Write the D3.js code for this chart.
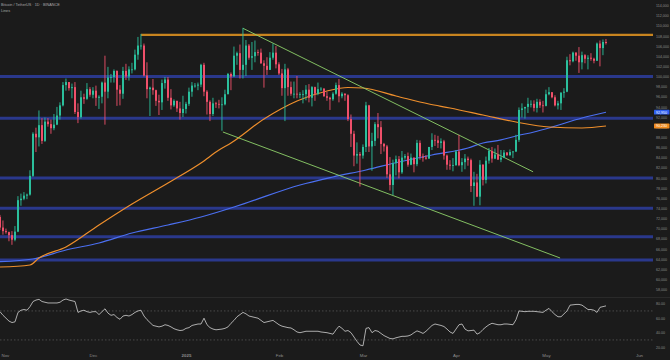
<!DOCTYPE html>
<html><head><meta charset="utf-8">
<script src="https://cdn.jsdelivr.net/npm/d3@7/dist/d3.min.js"></script>
<style>
html,body{margin:0;padding:0;background:#1b1b1b;overflow:hidden}
svg{display:block}
text{font-family:"Liberation Sans",Arial,sans-serif}
</style></head><body>
<svg id="c" width="670" height="360"></svg>
<script>
// ---- data (prices in thousands of USDT), daily candles starting 2024-10-31 ----
const startDate = Date.UTC(2024, 9, 31);
const opens = [
72.3,70.2,69.5,69.3,68.7,67.8,69.4,75.6,75.9,76.5,
76.7,80.4,88.7,88.0,90.4,87.3,91.1,90.6,89.8,90.5,
92.3,94.3,98.3,98.9,97.7,97.9,93.0,92.0,95.9,95.6,
97.5,96.4,97.2,95.8,96.0,98.8,97.0,99.8,99.9,101.1,
97.4,96.6,101.1,100.0,101.4,101.4,104.3,106.1,106.1,100.2,
97.5,97.8,97.3,95.2,94.9,98.7,99.4,95.8,94.3,95.2,
93.7,92.8,93.6,94.6,97.0,98.2,98.2,98.4,102.3,97.0,
95.0,92.6,94.7,94.6,94.5,94.5,96.5,100.5,100.0,104.1,
104.6,101.3,102.3,106.1,103.7,104.0,104.8,104.7,102.6,102.1,
101.3,103.7,104.7,102.4,100.6,97.7,101.4,97.9,96.6,96.6,
96.5,96.5,96.5,97.4,95.8,97.9,96.6,97.5,97.6,96.1,
95.8,95.5,96.6,98.3,96.1,96.6,96.3,91.6,88.7,84.4,
84.7,84.4,86.1,94.3,86.2,87.3,90.6,90.0,86.7,86.2,
80.7,78.6,82.9,83.7,81.1,84.0,84.3,82.6,84.0,82.7,
86.9,84.2,84.0,83.8,86.1,87.5,87.4,86.9,87.2,84.4,
82.6,82.4,82.5,85.2,82.5,83.1,83.8,83.5,78.4,79.1,
76.3,82.6,79.6,83.4,85.3,83.8,84.6,83.6,84.0,85.0,
84.5,85.1,85.2,87.5,93.4,93.7,94.0,94.6,94.6,93.8,
95.0,94.3,94.2,96.5,96.9,95.9,94.3,94.7,96.8,97.0,
103.2,103.0,104.7,104.1,102.8,104.2,103.5,103.7,103.5,103.1,
106.5,105.6,106.8];
const highs = [
72.7,71.6,70.0,69.4,69.5,70.5,76.4,76.9,77.2,76.9,
81.5,89.0,89.9,93.3,91.8,91.9,91.8,91.5,92.6,94.0,
94.9,98.9,99.6,98.9,98.6,98.9,94.7,97.2,96.6,98.7,
97.9,97.9,98.2,96.3,99.0,104.1,101.9,100.5,101.4,101.2,
98.3,101.9,102.5,102.0,102.7,105.3,107.8,108.4,106.5,102.8,
98.0,99.5,97.4,96.4,99.4,99.9,99.9,97.5,95.5,95.2,
95.0,96.2,95.0,97.8,98.9,98.7,98.8,102.5,102.7,97.3,
95.3,95.8,95.0,95.4,95.9,97.4,100.7,100.8,105.9,104.9,
106.3,109.6,107.2,106.4,106.8,107.1,105.3,105.5,103.2,103.8,
104.8,106.5,106.0,102.8,101.5,102.5,101.7,99.0,99.0,100.1,
96.9,97.3,98.3,98.5,98.1,98.0,98.8,97.9,97.7,97.0,
96.0,96.9,98.8,99.5,96.9,96.7,96.5,92.5,89.3,87.0,
85.1,86.6,95.0,94.4,88.9,91.0,92.8,91.2,86.9,86.5,
84.1,83.6,84.4,84.3,85.3,84.7,85.0,84.8,84.0,87.5,
87.4,84.8,84.5,86.1,88.8,88.5,88.3,87.8,87.5,84.6,
83.5,83.9,85.5,88.5,83.9,84.7,84.2,83.8,81.2,80.8,
83.5,82.7,84.2,85.9,86.1,85.8,86.5,85.5,85.5,85.1,
85.6,85.3,88.5,93.9,94.7,94.0,95.8,95.3,95.3,95.6,
95.5,95.2,97.4,97.9,96.9,96.3,95.2,96.9,97.7,103.9,
104.4,104.9,104.8,105.8,104.9,104.4,104.2,104.6,103.7,106.7,
107.1,107.3,107.4];
const lows = [
69.7,68.8,69.0,67.5,66.8,67.5,69.3,74.5,75.6,75.8,
76.5,80.2,85.1,86.2,86.7,87.1,90.1,88.7,89.4,90.4,
91.5,94.1,97.2,97.2,95.7,92.6,90.8,91.7,94.6,95.4,
96.0,95.7,94.2,93.6,94.7,90.5,95.7,98.8,98.8,94.2,
94.3,95.6,99.3,99.2,100.6,101.2,103.3,105.3,100.0,95.7,
92.2,96.4,94.2,92.4,93.4,97.6,95.2,93.5,94.0,93.0,
91.5,92.0,92.7,94.2,96.0,97.8,97.3,97.9,96.1,92.5,
91.2,92.2,93.8,93.7,89.3,94.3,96.5,97.3,100.0,102.3,
99.6,99.6,100.1,103.3,101.3,102.8,104.1,102.5,97.8,100.3,
101.3,103.3,101.6,100.3,96.2,91.2,96.2,96.2,95.7,95.7,
95.7,94.7,95.3,94.9,94.1,95.2,96.3,97.1,96.0,95.2,
93.4,95.2,96.4,94.9,95.7,95.2,91.2,86.1,82.3,82.8,
78.3,83.8,85.1,85.1,81.4,86.3,87.8,84.7,85.2,80.0,
77.5,76.6,80.5,79.9,80.8,83.6,82.2,82.5,81.1,82.3,
83.6,83.2,83.6,83.8,85.5,86.3,85.9,85.8,83.6,81.6,
81.6,81.3,82.4,82.3,81.2,81.7,82.4,77.2,74.5,76.2,
74.6,78.5,78.9,82.8,83.0,83.7,83.6,83.1,83.9,84.3,
84.3,83.9,85.1,87.1,91.9,91.7,92.8,93.9,93.1,92.9,
93.8,92.9,94.1,96.3,95.7,94.1,93.5,93.4,95.8,96.9,
102.2,102.8,103.1,100.7,101.4,102.6,101.4,103.1,102.6,103.1,
102.0,104.2,106.3];
const closes = [
70.2,69.5,69.3,68.7,67.8,69.4,75.6,75.9,76.5,76.7,
80.4,88.7,88.0,90.4,87.3,91.1,90.6,89.8,90.5,92.3,
94.3,98.3,98.9,97.7,97.9,93.0,92.0,95.9,95.6,97.5,
96.4,97.2,95.8,96.0,98.8,97.0,99.8,99.9,101.1,97.4,
96.6,101.1,100.0,101.4,101.4,104.3,106.1,106.1,100.2,97.5,
97.8,97.3,95.2,94.9,98.7,99.4,95.8,94.3,95.2,93.7,
92.8,93.6,94.6,97.0,98.2,98.2,98.4,102.3,97.0,95.0,
92.6,94.7,94.6,94.5,94.5,96.5,100.5,100.0,104.1,104.6,
101.3,102.3,106.1,103.7,104.0,104.8,104.7,102.6,102.1,101.3,
103.7,104.7,102.4,100.6,97.7,101.4,97.9,96.6,96.6,96.5,
96.5,96.5,97.4,95.8,97.9,96.6,97.5,97.6,96.1,95.8,
95.5,96.6,98.3,96.1,96.6,96.3,91.6,88.7,84.4,84.7,
84.4,86.1,94.3,86.2,87.3,90.6,90.0,86.7,86.2,80.7,
78.6,82.9,83.7,81.1,84.0,84.3,82.6,84.0,82.7,86.9,
84.2,84.0,83.8,86.1,87.5,87.4,86.9,87.2,84.4,82.6,
82.4,82.5,85.2,82.5,83.1,83.8,83.5,78.4,79.1,76.3,
82.6,79.6,83.4,85.3,83.8,84.6,83.6,84.0,85.0,84.5,
85.1,85.2,87.5,93.4,93.7,94.0,94.6,94.6,93.8,95.0,
94.3,94.2,96.5,96.9,95.9,94.3,94.7,96.8,97.0,103.2,
103.0,104.7,104.1,102.8,104.2,103.5,103.7,103.5,103.1,106.5,
105.6,106.8,106.6];
const rsiValues = [
69,64,60,56,54,55,68,71,72,71,
76,83,85,86,83,82,81,81,81,81,
82,85,86.5,85,84,83,68,70,71,69,
68,69,69,65,69,73,67,64,65,61,
58.5,63,64,63,65,68,70,71,63,58,
54,50,49,48,49,51,50,48,45.5,44,
43,43.5,46,47,50,51,52,52,60,51,
47,45,44,44.5,45,46,48,53,57,62,
65,68,66,63,62,61,60,57,54,55,
56,57,54,51,49,48,47,46.5,44,41,
40,41,42,42,42,42,42,41,40.5,40,
39,38,44,49,46,42,43,40,34,28,
23,22,46,47,40,43,42,39,36,34,
32,31.5,33,34,35,35,35.5,37,40,42.5,
41,39,42,46,50,52,51,50,48.5,45,
41,39,45,51,52,45,42.5,43,43.5,38,
40,44.5,48,51,53,52,51,51,52,52,
51.5,51,58,70,69.5,69,69.5,69.5,69.5,69,
68.5,68,71,73.5,69,65,62,62,66,70,
78,78.5,79,79,78,75,72,72,71,68,
75,76,77];
// moving averages (day index, value)
const ma100Days   = [0,10,13,22,33,44,56,67,73,77,88,99,109,116,121,132,143,150,161,172,183,194,202];
const ma100Values = [62.42,62.82,64.2,66.37,70.71,74.85,79.0,82.94,85.5,86.88,91.61,95.16,97.14,97.83,97.73,96.15,94.57,93.78,92.4,91.02,90.04,89.84,90.23];
const ma200Days   = [0,11,22,33,44,56,67,78,83,100,111,122,133,144,156,161,167,172,178,183,194,202];
const ma200Values = [63.47,64.0,65.78,67.16,69.13,70.71,72.29,74.26,75.24,78.6,80.18,81.56,83.13,84.52,85.9,86.88,87.48,88.26,89.05,89.84,91.81,92.95];
// drawn levels
const supportLevels = [100.0, 91.75, 80.0, 74.0, 68.4, 63.8];
const resistanceDay = 47, resistanceValue = 108.2;
const trendUpperDays = [81, 177.7],  trendUpperValues = [109.5, 81.2];
const trendLowerDays = [74.3, 186.7], trendLowerValues = [89.05, 64.2];
// axes
const priceTicks = [58,60,62,64,66,68,70,72,74,76,78,80,82,84,86,88,90,92,94,96,98,100,102,104,106,108,110,112,114];
const monthTickDates = ["2024-11-01","2024-12-01","2025-01-01","2025-02-01","2025-03-01","2025-04-01","2025-05-01","2025-06-01"];
const monthLabels = ["Nov","Dec","2025","Feb","Mar","Apr","May","Jun"];
const rsiTicks = [20,40,60,80];
const rsiBands = [70,30];
const headerTitle = "Bitcoin / TetherUS · 1D · BINANCE";
const headerSub = "Lines";

// ---- drawing ----
const DAY = 86400000;
const dayDate = i => new Date(startDate + i*DAY);
const svg = d3.select("#c");
const W = 670, H = 360, plotR = 653, mainB = 297;
svg.append("rect").attr("width",W).attr("height",H).attr("fill","#1b1b1b");

const x = d3.scaleUtc().domain([new Date(startDate), new Date(Date.UTC(2025,5,1))]).range([0, 639]);
const y = d3.scaleLinear().domain([56.505, 115.085]).range([mainB, 0]);
const ry = d3.scaleLinear().domain([0,100]).range([361.7, 289.2]);

const defs = svg.append("defs");
defs.append("clipPath").attr("id","mainClip").append("rect").attr("x",0).attr("y",0).attr("width",plotR).attr("height",mainB);
defs.append("clipPath").attr("id","rsiClip").append("rect").attr("x",0).attr("y",mainB+1).attr("width",plotR).attr("height",H-mainB);

const main = svg.append("g").attr("clip-path","url(#mainClip)");

// horizontal support levels
main.selectAll("line.sup").data(supportLevels).join("line")
  .attr("x1",0).attr("x2",plotR)
  .attr("y1",d=>y(d)).attr("y2",d=>y(d))
  .attr("stroke","#2b3a92").attr("stroke-width",3).attr("stroke-opacity",0.95);
// resistance
main.append("line")
  .attr("x1",x(dayDate(resistanceDay))).attr("x2",plotR)
  .attr("y1",y(resistanceValue)).attr("y2",y(resistanceValue))
  .attr("stroke","#c8841f").attr("stroke-width",2.4);

// moving averages
const maLine = d3.line().curve(d3.curveMonotoneX);
main.append("path")
  .attr("d", maLine(ma200Days.map((d,i)=>[x(dayDate(d)), y(ma200Values[i])])))
  .attr("fill","none").attr("stroke","#4b6ff0").attr("stroke-width",1.2);
main.append("path")
  .attr("d", maLine(ma100Days.map((d,i)=>[x(dayDate(d)), y(ma100Values[i])])))
  .attr("fill","none").attr("stroke","#ef8f2c").attr("stroke-width",1.2);

// trend lines
[[trendUpperDays,trendUpperValues],[trendLowerDays,trendLowerValues]].forEach(([ds,vs])=>{
  main.append("line")
    .attr("x1",x(dayDate(ds[0]))).attr("y1",y(vs[0]))
    .attr("x2",x(dayDate(ds[1]))).attr("y2",y(vs[1]))
    .attr("stroke","#8fd16a").attr("stroke-width",0.9);
});

// candles
const candles = opens.map((o,i)=>({i, o, h:highs[i], l:lows[i], c:closes[i]}));
const up = "#2bbf9c", down = "#f0506a";
const cg = main.append("g");
cg.selectAll("rect.wick").data(candles).join("rect")
  .attr("x",d=>x(dayDate(d.i))-0.5).attr("width",0.9)
  .attr("y",d=>y(d.h)).attr("height",d=>y(d.l)-y(d.h))
  .attr("fill",d=>d.c>=d.o?up:down);
cg.selectAll("rect.body").data(candles).join("rect")
  .attr("x",d=>x(dayDate(d.i))-1).attr("width",2)
  .attr("y",d=>y(Math.max(d.o,d.c)))
  .attr("height",d=>Math.max(0.8, Math.abs(y(d.o)-y(d.c))))
  .attr("fill",d=>d.c>=d.o?up:down);

// price axis
const yAxis = d3.axisRight(y).tickValues(priceTicks).tickSize(0).tickPadding(0)
  .tickFormat(d=>d3.format(",")(d*1000));
const ya = svg.append("g").attr("transform",`translate(656,0)`).call(yAxis);
ya.select(".domain").remove();
ya.selectAll("text").attr("fill","#8c8c8c").attr("font-size",3.6);

// value labels for MAs
const lastLabel = (val,color) => {
  const g = svg.append("g").attr("transform",`translate(654,${y(val)})`);
  g.append("rect").attr("x",0).attr("y",-2.4).attr("width",15.5).attr("height",4.8).attr("fill",color).attr("rx",0.6);
  g.append("text").attr("x",2).attr("y",1.3).attr("font-size",3.6).attr("fill","#ffffff")
    .text(d3.format(",")(Math.round(val*1000)));
};
lastLabel(ma200Values[ma200Values.length-1], "#2f5ff0");
lastLabel(ma100Values[ma100Values.length-1], "#f08a1c");

// pane separator
svg.append("line").attr("x1",0).attr("x2",W).attr("y1",mainB+0.5).attr("y2",mainB+0.5)
  .attr("stroke","#2a2a2a").attr("stroke-width",1);

// RSI pane
const rg = svg.append("g").attr("clip-path","url(#rsiClip)");
rg.selectAll("line.band").data(rsiBands).join("line")
  .attr("x1",0).attr("x2",plotR).attr("y1",d=>ry(d)).attr("y2",d=>ry(d))
  .attr("stroke","#6a6a6a").attr("stroke-width",0.6).attr("stroke-dasharray","1.5,2");
rg.append("path")
  .attr("d", d3.line().x((d,i)=>x(dayDate(i))).y(d=>ry(d))(rsiValues))
  .attr("fill","none").attr("stroke","#d2d2d2").attr("stroke-width",0.8);

const rAxis = d3.axisRight(ry).tickValues(rsiTicks).tickSize(0).tickPadding(0)
  .tickFormat(d=>d3.format(".2f")(d));
const ra = svg.append("g").attr("transform",`translate(656,0)`).call(rAxis);
ra.select(".domain").remove();
ra.selectAll("text").attr("fill","#8c8c8c").attr("font-size",3.6);

// time axis
const xAxis = d3.axisBottom(x).tickValues(monthTickDates.map(s=>new Date(s+"T00:00:00Z")))
  .tickSize(0).tickPadding(0).tickFormat((d,i)=>monthLabels[i]);
const xa = svg.append("g").attr("transform","translate(0,354)").call(xAxis);
xa.select(".domain").remove();
xa.selectAll("text").attr("fill","#8c8c8c").attr("font-size",4.4)
  .attr("font-weight",(d,i)=>monthLabels[i]==="2025"?"bold":null);
// keep first month label inside the frame
xa.selectAll(".tick text").filter((d,i)=>i===0).attr("text-anchor","start").attr("x",-2);

// header
svg.append("text").attr("x",1).attr("y",6)
  .attr("font-size",3.8).attr("fill","#a8a8a8").text(headerTitle);
svg.append("text").attr("x",1).attr("y",12)
  .attr("font-size",3.8).attr("fill","#a8a8a8").text(headerSub);
</script>
</body></html>
